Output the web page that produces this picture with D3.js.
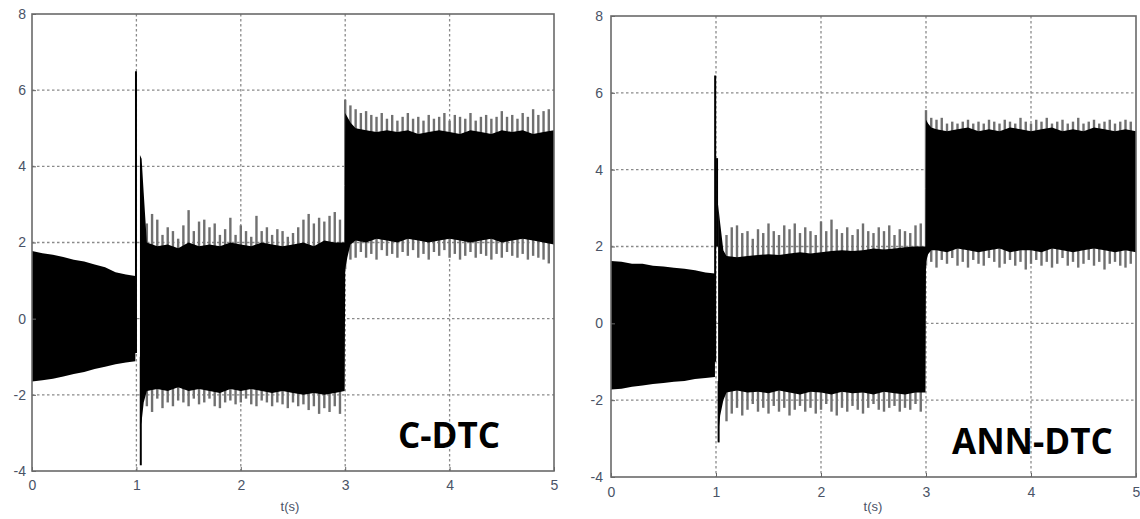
<!DOCTYPE html>
<html lang="en">
<head>
<meta charset="UTF-8">
<title>C-DTC vs ANN-DTC</title>
<script src="https://d3js.org/d3.v7.min.js"></script>
<style>
  body { margin: 0; background: #fff; }
  svg { display: block; }
</style>
</head>
<body>
<div class="chart"></div>
<script>
// axis ticks
const xTicks = [0, 1, 2, 3, 4, 5];
const yTicks = [-4, -2, 0, 2, 4, 6, 8];

// black core of the band (upper / lower edge), null = gap
const cdtcCoreT  = [0, 0.1, 0.2, 0.3, 0.4, 0.5, 0.6, 0.7, 0.8, 0.9, 0.99, null, 1.034, 1.05, 1.07,
  1.1, 1.2, 1.3, 1.4, 1.5, 1.6, 1.7, 1.8, 1.9, 2.0, 2.1, 2.2, 2.3, 2.4, 2.5, 2.6, 2.7, 2.8, 2.9, 2.995,
  3.0, 3.02, 3.05, 3.1, 3.2, 3.3, 3.4, 3.5, 3.6, 3.7, 3.8, 3.9, 4.0, 4.1, 4.2, 4.3, 4.4, 4.5, 4.6, 4.7, 4.8, 4.9, 5.0];
const cdtcCoreHi = [1.78, 1.72, 1.68, 1.62, 1.55, 1.5, 1.42, 1.35, 1.22, 1.16, 1.12, null, 4.3, 4.2, 3.3,
  2.0, 1.9, 1.95, 1.85, 2.0, 1.9, 1.95, 1.9, 2.0, 1.95, 1.9, 2.0, 1.95, 1.9, 1.95, 2.0, 1.9, 2.05, 2.0, 2.0,
  5.4, 5.3, 5.15, 5.0, 4.95, 4.9, 4.95, 4.9, 4.95, 4.85, 4.9, 4.95, 4.9, 4.85, 4.95, 4.9, 4.85, 4.95, 4.9, 4.95, 4.85, 4.9, 4.95];
const cdtcCoreLo = [-1.65, -1.62, -1.58, -1.52, -1.45, -1.4, -1.32, -1.26, -1.2, -1.15, -1.12, null, -2.9, -2.7, -2.2,
  -1.9, -1.85, -1.9, -1.8, -1.9, -1.85, -1.9, -1.95, -1.85, -1.9, -1.85, -1.9, -1.95, -1.9, -1.95, -2.0, -1.95, -2.0, -1.95, -1.9,
  1.3, 1.6, 1.95, 2.05, 2.0, 2.1, 2.05, 2.0, 2.1, 2.05, 2.0, 2.05, 2.1, 2.05, 2.0, 2.05, 2.1, 2.0, 2.05, 2.1, 2.05, 2.0, 1.95];

const annCoreT  = [0, 0.1, 0.2, 0.3, 0.4, 0.5, 0.6, 0.7, 0.8, 0.9, 0.99, null, 1.02, 1.04, 1.07,
  1.1, 1.2, 1.3, 1.4, 1.5, 1.6, 1.7, 1.8, 1.9, 2.0, 2.1, 2.2, 2.3, 2.4, 2.5, 2.6, 2.7, 2.8, 2.9, 2.995,
  3.0, 3.02, 3.05, 3.1, 3.2, 3.3, 3.4, 3.5, 3.6, 3.7, 3.8, 3.9, 4.0, 4.1, 4.2, 4.3, 4.4, 4.5, 4.6, 4.7, 4.8, 4.9, 5.0];
const annCoreHi = [1.62, 1.6, 1.55, 1.55, 1.5, 1.48, 1.45, 1.42, 1.38, 1.32, 1.3, null, 3.1, 2.6, 1.9,
  1.75, 1.72, 1.75, 1.78, 1.8, 1.78, 1.82, 1.85, 1.82, 1.85, 1.88, 1.9, 1.88, 1.9, 1.95, 1.92, 1.95, 1.98, 2.0, 2.0,
  5.3, 5.2, 5.1, 5.05, 5.0, 5.05, 5.1, 5.0, 5.05, 5.0, 5.1, 5.05, 5.0, 5.05, 5.1, 5.0, 5.05, 5.0, 5.1, 5.05, 5.0, 5.05, 5.0];
const annCoreLo = [-1.72, -1.7, -1.65, -1.62, -1.58, -1.55, -1.52, -1.5, -1.45, -1.42, -1.4, null, -2.9, -2.4, -2.0,
  -1.8, -1.75, -1.8, -1.78, -1.82, -1.75, -1.8, -1.85, -1.78, -1.8, -1.85, -1.78, -1.82, -1.8, -1.85, -1.78, -1.82, -1.85, -1.8, -1.8,
  1.6, 1.8, 1.9, 1.9, 1.85, 1.95, 1.9, 1.85, 1.9, 1.95, 1.85, 1.9, 1.9, 1.85, 1.95, 1.9, 1.85, 1.9, 1.95, 1.9, 1.85, 1.9, 1.85];

// grey spike tips around the band
const spikeT = [1.1, 1.15, 1.2, 1.25, 1.3, 1.35, 1.4, 1.45, 1.5, 1.55, 1.6, 1.65, 1.7, 1.75, 1.8, 1.85, 1.9, 1.95,
  2.0, 2.05, 2.1, 2.15, 2.2, 2.25, 2.3, 2.35, 2.4, 2.45, 2.5, 2.55, 2.6, 2.65, 2.7, 2.75, 2.8, 2.85, 2.9, 2.95,
  3.0, 3.05, 3.1, 3.15, 3.2, 3.25, 3.3, 3.35, 3.4, 3.45, 3.5, 3.55, 3.6, 3.65, 3.7, 3.75, 3.8, 3.85, 3.9, 3.95,
  4.0, 4.05, 4.1, 4.15, 4.2, 4.25, 4.3, 4.35, 4.4, 4.45, 4.5, 4.55, 4.6, 4.65, 4.7, 4.75, 4.8, 4.85, 4.9, 4.95];
const cdtcSpHi = [2.5, 2.75, 2.6, 2.2, 2.4, 2.3, 2.1, 2.45, 2.85, 2.3, 2.55, 2.6, 2.4, 2.5, 2.2, 2.35, 2.65, 2.2,
  2.45, 2.3, 2.15, 2.7, 2.3, 2.4, 2.2, 2.35, 2.3, 2.15, 2.25, 2.4, 2.6, 2.75, 2.5, 2.65, 2.55, 2.7, 2.8, 2.6,
  5.75, 5.6, 5.5, 5.4, 5.45, 5.35, 5.3, 5.4, 5.25, 5.35, 5.2, 5.3, 5.4, 5.25, 5.3, 5.2, 5.35, 5.25, 5.3, 5.4,
  5.2, 5.35, 5.3, 5.25, 5.4, 5.2, 5.3, 5.35, 5.25, 5.3, 5.45, 5.3, 5.35, 5.25, 5.4, 5.3, 5.5, 5.35, 5.45, 5.5];
const cdtcSpLo = [-2.3, -2.45, -2.1, -2.35, -2.2, -2.3, -2.15, -2.2, -2.3, -2.1, -2.25, -2.2, -2.1, -2.3, -2.35, -2.2, -2.15, -2.25,
  -2.2, -2.1, -2.25, -2.3, -2.15, -2.2, -2.3, -2.2, -2.25, -2.35, -2.2, -2.3, -2.25, -2.4, -2.3, -2.5, -2.35, -2.45, -2.3, -2.5,
  1.3, 1.55, 1.6, 1.75, 1.6, 1.7, 1.55, 1.8, 1.65, 1.7, 1.6, 1.75, 1.65, 1.8, 1.6, 1.7, 1.55, 1.75, 1.65, 1.8,
  1.6, 1.7, 1.55, 1.65, 1.75, 1.6, 1.7, 1.65, 1.55, 1.7, 1.6, 1.75, 1.65, 1.6, 1.7, 1.55, 1.65, 1.6, 1.55, 1.45];
const annSpHi = [2.3, 2.5, 2.55, 2.35, 2.4, 2.2, 2.45, 2.35, 2.6, 2.4, 2.3, 2.55, 2.45, 2.6, 2.35, 2.5, 2.4, 2.3,
  2.65, 2.4, 2.7, 2.45, 2.35, 2.5, 2.3, 2.45, 2.6, 2.4, 2.35, 2.5, 2.4, 2.55, 2.3, 2.45, 2.4, 2.35, 2.55, 2.6,
  5.55, 5.35, 5.3, 5.35, 5.2, 5.25, 5.2, 5.25, 5.3, 5.2, 5.25, 5.2, 5.3, 5.25, 5.2, 5.3, 5.25, 5.2, 5.35, 5.25,
  5.2, 5.3, 5.25, 5.35, 5.2, 5.25, 5.3, 5.2, 5.25, 5.35, 5.2, 5.25, 5.3, 5.2, 5.25, 5.3, 5.2, 5.25, 5.3, 5.25];
const annSpLo = [-2.55, -2.35, -2.2, -2.4, -2.25, -2.1, -2.3, -2.2, -2.35, -2.15, -2.3, -2.2, -2.4, -2.25, -2.15, -2.3, -2.2, -2.35,
  -2.25, -2.1, -2.3, -2.4, -2.2, -2.3, -2.15, -2.25, -2.35, -2.2, -2.1, -2.25, -2.3, -2.2, -2.15, -2.3, -2.2, -2.25, -2.1, -2.3,
  1.5, 1.6, 1.45, 1.65, 1.55, 1.7, 1.5, 1.6, 1.45, 1.65, 1.55, 1.5, 1.7, 1.6, 1.45, 1.55, 1.65, 1.5, 1.6, 1.4,
  1.55, 1.65, 1.5, 1.6, 1.45, 1.55, 1.7, 1.5, 1.6, 1.45, 1.55, 1.65, 1.5, 1.6, 1.4, 1.55, 1.6, 1.5, 1.45, 1.55];

// thin transient strokes at the load step: [t, low, high]
const cdtcStrokes = [[0.996, -0.9, 6.5], [1.042, -3.85, -1.0]];
const annStrokes  = [[0.992, -1.0, 6.45], [1.01, 2.0, 4.3], [1.025, -3.1, -1.5]];

const W = 1140, H = 519;
const svg = d3.select('.chart').append('svg').attr('width', W).attr('height', H);

function drawPanel(p) {
  const x = d3.scaleLinear().domain([0, 5]).range([p.x0, p.x1]);
  const y = d3.scaleLinear().domain([-4, 8]).range([p.y1, p.y0]);
  const g = svg.append('g');

  // dotted grid
  g.selectAll('.vg').data(xTicks.slice(1, -1)).enter().append('line')
    .attr('x1', d => x(d)).attr('x2', d => x(d)).attr('y1', p.y0).attr('y2', p.y1)
    .attr('stroke', '#8a8a8a').attr('stroke-width', 1.3).attr('stroke-dasharray', '2.5,2.5');
  g.selectAll('.hg').data(yTicks.slice(1, -1)).enter().append('line')
    .attr('y1', d => y(d)).attr('y2', d => y(d)).attr('x1', p.x0).attr('x2', p.x1)
    .attr('stroke', '#8a8a8a').attr('stroke-width', 1.3).attr('stroke-dasharray', '2.5,2.5');

  // grey spikes (under the black core)
  g.selectAll('.sh').data(spikeT).enter().append('line')
    .attr('x1', d => x(d)).attr('x2', d => x(d))
    .attr('y1', d => y(d < 3 ? 0 : 3.5)).attr('y2', (d, i) => y(p.spHi[i]))
    .attr('stroke', '#707070').attr('stroke-width', 2.4);
  g.selectAll('.sl').data(spikeT).enter().append('line')
    .attr('x1', d => x(d)).attr('x2', d => x(d))
    .attr('y1', d => y(d < 3 ? 0 : 3.5)).attr('y2', (d, i) => y(p.spLo[i]))
    .attr('stroke', '#707070').attr('stroke-width', 2.4);

  // black core band
  const pts = p.coreT.map((t, i) => ({ t: t, hi: p.coreHi[i], lo: p.coreLo[i] }));
  const area = d3.area()
    .defined(d => d.t !== null)
    .x(d => x(d.t)).y0(d => y(d.lo)).y1(d => y(d.hi));
  g.append('path').datum(pts).attr('d', area).attr('fill', '#000');

  // transient strokes
  g.selectAll('.st').data(p.strokes).enter().append('line')
    .attr('x1', d => x(d[0])).attr('x2', d => x(d[0]))
    .attr('y1', d => y(d[1])).attr('y2', d => y(d[2]))
    .attr('stroke', '#000').attr('stroke-width', 2);

  // axes (ticks inward, labels only)
  const ax = g.append('g').attr('transform', `translate(0,${p.y1})`)
    .call(d3.axisBottom(x).tickValues(xTicks).tickSize(-4).tickPadding(p.padX).tickFormat(d => String(d)));
  const ay = g.append('g').attr('transform', `translate(${p.x0},0)`)
    .call(d3.axisLeft(y).tickValues(yTicks).tickSize(-4).tickPadding(p.padY).tickFormat(d => String(d)));
  [ax, ay].forEach(a => {
    a.select('.domain').remove();
    a.selectAll('line').attr('stroke', '#666');
    a.selectAll('text').attr('fill', '#4a5366').style('font-family', '"Liberation Sans", Arial, sans-serif').style('font-size', '14px');
  });

  // frame
  g.append('rect').attr('x', p.x0).attr('y', p.y0).attr('width', p.x1 - p.x0).attr('height', p.y1 - p.y0)
    .attr('fill', 'none').attr('stroke', '#6a6a6a').attr('stroke-width', 1.6);

  g.append('text').attr('x', p.tsX).attr('y', p.tsY).attr('text-anchor', 'middle')
    .attr('fill', '#4a5366').style('font-family', '"Liberation Sans", Arial, sans-serif').style('font-size', '13px')
    .text('t(s)');

  g.append('text').attr('x', p.labelX).attr('y', p.labelY)
    .attr('fill', '#000').style('font-family', '"Open Sans", sans-serif').style('font-weight', 700).style('font-size', '35px')
    .text(p.label);
}

drawPanel({ x0: 32, x1: 554, y0: 14, y1: 471, coreT: cdtcCoreT, coreHi: cdtcCoreHi, coreLo: cdtcCoreLo,
  spHi: cdtcSpHi, spLo: cdtcSpLo, strokes: cdtcStrokes, padX: 9, padY: 6, tsX: 290, tsY: 511,
  label: 'C-DTC', labelX: 398, labelY: 448 });
drawPanel({ x0: 611, x1: 1136, y0: 16, y1: 477, coreT: annCoreT, coreHi: annCoreHi, coreLo: annCoreLo,
  spHi: annSpHi, spLo: annSpLo, strokes: annStrokes, padX: 10, padY: 8, tsX: 873, tsY: 511,
  label: 'ANN-DTC', labelX: 952, labelY: 454 });
</script>
</body>
</html>
